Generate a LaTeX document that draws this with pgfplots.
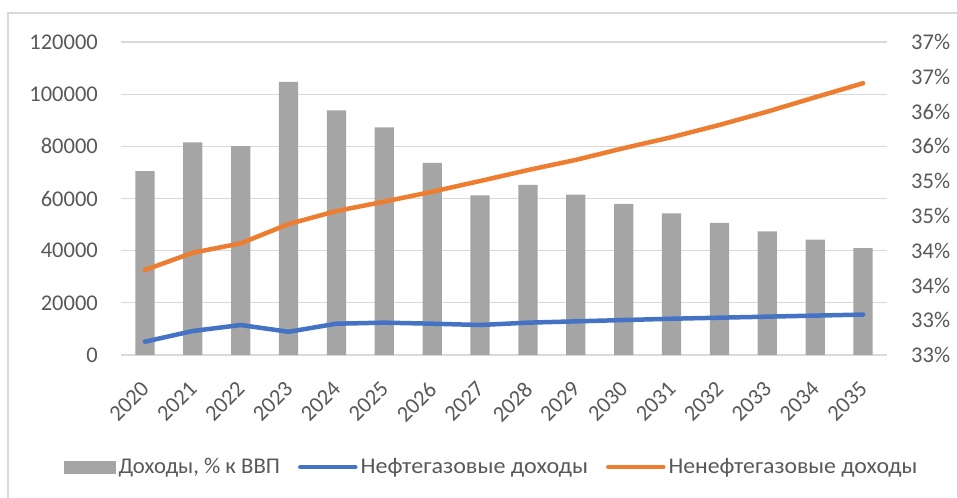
\documentclass[border=0pt]{standalone}
\usepackage{fontspec}
\setmainfont{Carlito}
\usepackage{graphicx}
\usepackage{pgfplots}
\pgfplotsset{compat=1.18}
\definecolor{barg}{HTML}{A5A5A5}
\definecolor{blu}{HTML}{4472C4}
\definecolor{org}{HTML}{ED7D31}
\definecolor{grd}{HTML}{D9D9D9}
\definecolor{txt}{HTML}{595959}
\newcommand{\cf}{\fontsize{22.5bp}{27bp}\selectfont}
\begin{document}
\begin{tikzpicture}
\path[use as bounding box, fill=white] (0,0) rectangle (957bp,498bp);
\draw[grd, line width=1.2bp] (8bp,0) -- (8bp,485bp) -- (957bp,485bp);
\begin{axis}[
  at={(121bp,143bp)}, anchor=south west,
  scale only axis, width=766bp, height=313bp,
  xmin=-0.5, xmax=15.5, ymin=0, ymax=120000,
  xtick={0,...,15},
  xticklabels={2020,2021,2022,2023,2024,2025,2026,2027,2028,2029,2030,2031,2032,2033,2034,2035},
  ytick={0,20000,40000,60000,80000,100000,120000},
  yticklabels={0,20000,40000,60000,80000,100000,120000},
  scaled y ticks=false,
  /pgf/number format/assume math mode=true,
  ymajorgrids, grid style={grd, line width=1.2bp},
  axis x line*=bottom, axis y line*=left,
  x axis line style={grd, line width=1.2bp},
  y axis line style={draw=none},
  major tick length=0,
  tick label style={font=\cf, text=txt},
  yticklabel style={inner sep=0pt}, yticklabel shift=23bp,
  xticklabel style={xshift=-5bp, rotate=45, anchor=north east, inner sep=0pt}, xticklabel shift=25bp,
  legend columns=3,
  legend cell align=left,
  legend style={at={(0.4843,-0.358)}, anchor=center, draw=none, fill=none, font=\cf, text=txt,
    /tikz/every even column/.append style={column sep=15bp},
    nodes={inner sep=3bp}},
]
\addplot[ybar, bar width=19.3bp, fill=barg, draw=none,
  legend image code/.code={\fill[barg] (0bp,-6.5bp) rectangle (52bp,6.5bp);}]
  coordinates {(0,70500) (1,81500) (2,80100) (3,104700) (4,93800) (5,87300) (6,73700) (7,61200)
  (8,65200) (9,61500) (10,57900) (11,54300) (12,50700) (13,47400) (14,44200) (15,41000)};
\addlegendentry{\scalebox{1.01}[1]{Доходы, \% к ВВП}}
\addplot[blu, line width=4.5bp, line cap=round, line join=round,
  legend image code/.code={\draw[blu, line width=4.5bp, line cap=round] (0bp,0bp) -- (55bp,0bp);}]
  coordinates {(0,5100) (1,9200) (2,11500) (3,8900) (4,12000) (5,12400) (6,12000) (7,11500)
  (8,12400) (9,12900) (10,13400) (11,13900) (12,14300) (13,14700) (14,15100) (15,15500)};
\addlegendentry{\scalebox{1.07}[1]{Нефтегазовые доходы}}
\addplot[org, line width=4.5bp, line cap=round, line join=round,
  legend image code/.code={\draw[org, line width=4.5bp, line cap=round] (0bp,0bp) -- (55bp,0bp);}]
  coordinates {(0,32600) (1,39200) (2,42800) (3,50200) (4,55200) (5,58800) (6,62600) (7,66700)
  (8,70900) (9,74800) (10,79300) (11,83500) (12,88200) (13,93300) (14,98800) (15,104200)};
\addlegendentry{\scalebox{1.055}[1]{Ненефтегазовые доходы}}
\end{axis}
\begin{axis}[
  at={(121bp,143bp)}, anchor=south west,
  scale only axis, width=766bp, height=313bp,
  xmin=-0.5, xmax=15.5, ymin=32.5, ymax=37,
  axis x line=none, axis y line*=right,
  y axis line style={draw=none},
  ytick={32.5,33,33.5,34,34.5,35,35.5,36,36.5,37},
  yticklabels={33\%,33\%,34\%,34\%,35\%,35\%,36\%,36\%,37\%,37\%},
  major tick length=0,
  tick label style={font=\cf, text=txt},
  yticklabel style={inner sep=0pt}, yticklabel shift=24bp,
]
\end{axis}
\end{tikzpicture}
\end{document}
